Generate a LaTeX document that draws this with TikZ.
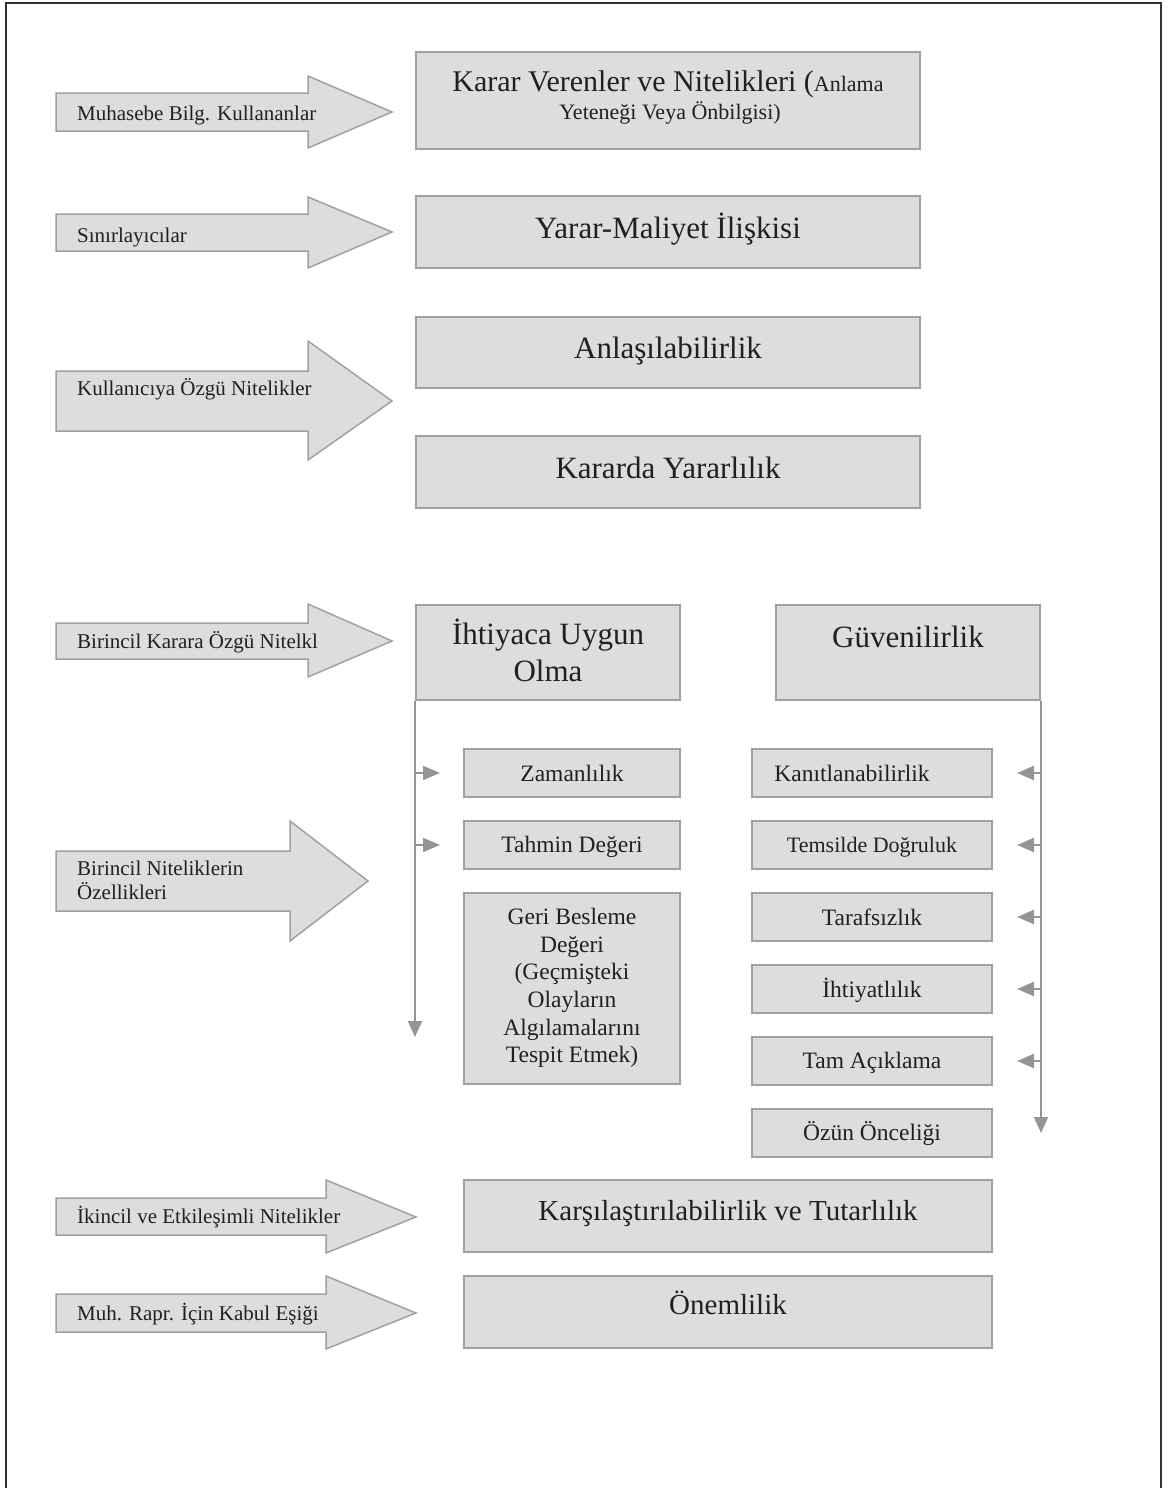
\documentclass[tikz,border=0pt]{standalone}
\usepackage{fontspec}
\setmainfont{Liberation Serif}
\usetikzlibrary{arrows.meta,fit}

\definecolor{boxfill}{HTML}{DCDDDE}
\definecolor{boxline}{HTML}{A0A1A3}
\definecolor{linkgray}{HTML}{939598}
\definecolor{ink}{HTML}{231F20}
\definecolor{framegray}{HTML}{333333}

\newcommand{\fsz}[2]{\fontsize{#1}{#2}\selectfont}

\begin{document}
\begin{tikzpicture}[x=1pt,y=-1pt,
  box/.style={draw=boxline, fill=boxfill, line width=2pt, inner sep=0pt},
  pointer/.style={draw=boxline, fill=boxfill, line width=1.5pt, line join=miter},
  txt/.style={text=ink, inner sep=0pt, anchor=base},
  sidetxt/.style={txt, anchor=base west, font=\fsz{21}{24}},
  bigtxt/.style={txt, font=\fsz{31}{37}},
  smalltxt/.style={txt, font=\fsz{23.5}{27.6}},
  lowtxt/.style={txt, font=\fsz{29}{34}},
  link/.style={draw=linkgray, line width=2pt, -{Triangle[length=16pt,width=14pt]}},
]
\useasboundingbox (0,0) rectangle (1168,1488);

% outer frame, open at the bottom
\draw[framegray, line width=2.5pt] (6,1492) -- (6,3) -- (1161,3) -- (1161,1492);

% ---- block arrows on the left ----
\path[pointer] (56,93) -- (308,93) -- (308,76) -- (392,112) -- (308,148) -- (308,131) -- (56,131) -- cycle;
\path[pointer] (56,214) -- (308,214) -- (308,197) -- (392,232) -- (308,268) -- (308,251) -- (56,251) -- cycle;
\path[pointer] (56,371) -- (308,371) -- (308,341) -- (392,401) -- (308,460) -- (308,431) -- (56,431) -- cycle;
\path[pointer] (56,623) -- (308,623) -- (308,604) -- (392,641) -- (308,677) -- (308,659) -- (56,659) -- cycle;
\path[pointer] (56,851) -- (290,851) -- (290,821) -- (368,881) -- (290,941) -- (290,911) -- (56,911) -- cycle;
\path[pointer] (56,1198) -- (326,1198) -- (326,1180) -- (416,1217) -- (326,1253) -- (326,1235) -- (56,1235) -- cycle;
\path[pointer] (56,1294) -- (326,1294) -- (326,1276) -- (416,1313) -- (326,1349) -- (326,1332) -- (56,1332) -- cycle;

\node[sidetxt] (muhasebe-t) at (77,120) {Muhasebe Bilg. Kullananlar};
\node[sidetxt] (sinir-t) at (77,242) {Sınırlayıcılar};
\node[sidetxt] (kullanici-t) at (77,395) {Kullanıcıya Özgü Nitelikler};
\node[sidetxt] (birincilk-t) at (77,648) {Birincil Karara Özgü Nitelkl};
\node[sidetxt] (birinciln-t1) at (77,875) {Birincil Niteliklerin};
\node[sidetxt] (birinciln-t2) at (77,899) {Özellikleri};
\node[sidetxt] (ikincil-t) at (77,1223) {İkincil ve Etkileşimli Nitelikler};
\node[sidetxt] (muhrapr-t) at (77,1320) {Muh. Rapr. İçin Kabul Eşiği};

% ---- wide boxes ----
\node[box, fit={(416,52) (920,149)}] (karar) {};
\node[txt, font=\fsz{30}{36}] (karar-t1) at (668,92) {Karar Verenler ve Nitelikleri ({\fsz{22}{25}Anlama}};
\node[txt, font=\fsz{22}{25}] (karar-t2) at (670,119) {Yeteneği Veya Önbilgisi)};

\node[box, fit={(416,196) (920,268)}] (yarar) {};
\node[bigtxt] (yarar-t) at (668,238) {Yarar-Maliyet İlişkisi};

\node[box, fit={(416,317) (920,388)}] (anlas) {};
\node[bigtxt] (anlas-t) at (668,358) {Anlaşılabilirlik};

\node[box, fit={(416,436) (920,508)}] (kararda) {};
\node[bigtxt] (kararda-t) at (668,478) {Kararda Yararlılık};

% ---- primary qualities ----
\node[box, fit={(416,605) (680,700)}] (ihtiyac) {};
\node[bigtxt, anchor=center, align=center] (ihtiyac-t) at (548,650) {İhtiyaca Uygun\\Olma};

\node[box, fit={(776,605) (1040,700)}] (guven) {};
\node[bigtxt] (guven-t) at (908,647) {Güvenilirlik};

% ---- sub-qualities of relevance ----
\node[box, fit={(464,749) (680,797)}] (zaman) {};
\node[smalltxt] (zaman-t) at (572,781) {Zamanlılık};
\node[box, fit={(464,821) (680,869)}] (tahmin) {};
\node[smalltxt] (tahmin-t) at (572,852) {Tahmin Değeri};
\node[box, fit={(464,893) (680,1084)}] (geri) {};
\node[smalltxt, anchor=center, align=center] (geri-t) at (572,988)
  {Geri Besleme\\Değeri\\(Geçmişteki\\Olayların\\Algılamalarını\\Tespit Etmek)};

% ---- sub-qualities of reliability ----
\node[box, fit={(752,749) (992,797)}] (kanit) {};
\node[smalltxt] (kanit-t) at (852,781) {Kanıtlanabilirlik};
\node[box, fit={(752,821) (992,869)}] (temsil) {};
\node[smalltxt, font=\fsz{22}{26}] (temsil-t) at (872,852) {Temsilde Doğruluk};
\node[box, fit={(752,893) (992,941)}] (taraf) {};
\node[smalltxt] (taraf-t) at (872,925) {Tarafsızlık};
\node[box, fit={(752,965) (992,1013)}] (ihtiyat) {};
\node[smalltxt] (ihtiyat-t) at (872,997) {İhtiyatlılık};
\node[box, fit={(752,1037) (992,1085)}] (tam) {};
\node[smalltxt] (tam-t) at (872,1068) {Tam Açıklama};
\node[box, fit={(752,1109) (992,1157)}] (ozun) {};
\node[smalltxt] (ozun-t) at (872,1140) {Özün Önceliği};

% ---- secondary qualities and threshold ----
\node[box, fit={(464,1180) (992,1252)}] (kars) {};
\node[lowtxt] (kars-t) at (728,1220) {Karşılaştırılabilirlik ve Tutarlılık};
\node[box, fit={(464,1276) (992,1348)}] (onem) {};
\node[lowtxt] (onem-t) at (728,1314) {Önemlilik};

% ---- connectors ----
\draw[link] (ihtiyac.south west) -- ++(0,336);
\draw[link, -{Triangle[length=17pt,width=14pt]}] (ihtiyac.south west |- zaman.west) -- ++(25,0);
\draw[link, -{Triangle[length=17pt,width=14pt]}] (ihtiyac.south west |- tahmin.west) -- ++(25,0);

\draw[link] (guven.south east) -- ++(0,432);
\foreach \n in {kanit,temsil,taraf,ihtiyat,tam}
  \draw[link, -{Triangle[length=17pt,width=14pt]}] (guven.south east |- \n.east) -- ++(-24,0);

\end{tikzpicture}
\end{document}
